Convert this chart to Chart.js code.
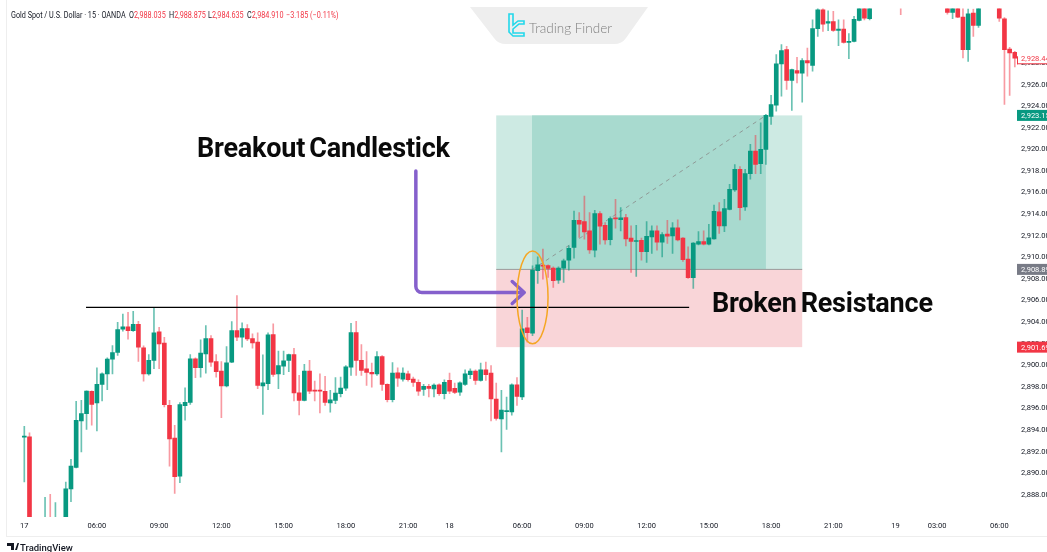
<!DOCTYPE html>
<html>
<head>
<meta charset="utf-8">
<title>Gold Spot / U.S. Dollar</title>
<script src="https://cdn.jsdelivr.net/npm/chart.js@4"></script>
<style>
  html, body { margin: 0; padding: 0; background: #fff; overflow: hidden; }
  #marco { position: relative; width: 1047px; height: 552px; overflow: hidden; }
  canvas { position: absolute; left: 0; top: 0; }
  .txt { position: absolute; white-space: nowrap; line-height: 1; }
  .cab { top: 10px; font: 8.5px Roboto, sans-serif; color: #131722; transform: scaleX(.85); transform-origin: left top; }
  .rojo { color: #f23645; }
  .nota { font: 700 27px Roboto, sans-serif; letter-spacing: -.2px; word-spacing: -2.5px; color: #0a0a0a; }
</style>
</head>
<body>
<div id="marco">
  <canvas id="plot1" width="1047" height="552"></canvas>

  <svg style="position:absolute;left:0;top:0" width="1047" height="552">
    <path d="M470 7 L648 7 L626 38 Q622 44 614 44 L506 44 Q498 44 494 38 Z" fill="#eeeeee"/>
    <path d="M509 14 H513 V25 L518 21 H524 V24 H519 L513 29 V33 H524 V36 H513 L509 32 Z" fill="none" stroke="#22d8ea" stroke-width="1.6"/>
    <path d="M7 543 H14 V550 H11 V546 H7 Z M15 550 L17.5 543 H19 L17 550 Z" fill="#131722"/>
  </svg>

  <div class="txt cab" style="left:11px">Gold Spot / U.S. Dollar · 15 · OANDA</div>
  <div class="txt cab" style="left:129px">O<span class="rojo">2,988.035</span></div>
  <div class="txt cab" style="left:169px">H<span class="rojo">2,988.875</span></div>
  <div class="txt cab" style="left:208px">L<span class="rojo">2,984.635</span></div>
  <div class="txt cab" style="left:247px">C<span class="rojo">2,984.910</span></div>
  <div class="txt cab rojo" style="left:286px">−3.185 (−0.11%)</div>

  <div class="txt" style="left:529px;top:20px;font:300 13.5px Lato,sans-serif;color:#808080">Trading Finder</div>
  <div class="txt" style="left:20px;top:542px;font:500 9.5px Roboto,sans-serif;color:#131722">TradingView</div>

  <div class="txt nota" style="left:197px;top:132px">Breakout Candlestick</div>
  <div class="txt nota" style="left:712px;top:287px">Broken Resistance</div>
</div>

<script>
// Precios de cada vela (las que salen de la vista son estimadas)
let aperturas = [
  2893.35, 2893.38, 2884, 2884.5, 2884.6, 2885.5, 2885, 2885.6, 2885.2, 2888.55,
  2890.55, 2894.86, 2895.53, 2897.6, 2896.52, 2898.24, 2899.22, 2900.58, 2901.19, 2903.35,
  2903.56, 2903.22, 2903.81, 2901.62, 2899.22, 2900.46, 2903.1, 2902.06, 2896.3, 2893.26,
  2889.75, 2896.27, 2896.58, 2900.61, 2899.78, 2901.07, 2902.49, 2900.36, 2899.47, 2898.09,
  2900.3, 2903.22, 2902.61, 2903.41, 2902.49, 2902.15, 2898.09, 2898.3, 2902.86, 2899.22,
  2899.93, 2900.46, 2901.01, 2897.47, 2896.76, 2899.47, 2897.7, 2897.7, 2897.59, 2896.52,
  2896.76, 2897.38, 2897.9, 2899.84, 2903.04, 2900.46, 2899.69, 2899.35, 2899.22, 2900.82,
  2898.24, 2896.82, 2899.32, 2898.73, 2899.22, 2898.73, 2898.42, 2897.78, 2898.06, 2897.81,
  2898.21, 2897.38, 2898.61, 2897.87, 2897.53, 2898.24, 2899.13, 2899.47, 2898.61, 2899.59,
  2899.29, 2896.89, 2895.04, 2895.72, 2895.69, 2898.21, 2897.07, 2903.47, 2902.98, 2908.76,
  2909.28, 2909.25, 2909.01, 2907.9, 2909.01, 2909.75, 2910.92, 2913.44, 2913.32, 2912.45,
  2910.67, 2914.05, 2912.98, 2911.65, 2913.63, 2913.5, 2913.69, 2911.78, 2911.47, 2911.59,
  2910.52, 2911.9, 2912.45, 2911.41, 2912.15, 2911.99, 2912.73, 2911.78, 2909.84, 2908.12,
  2911.22, 2911.47, 2911.22, 2911.72, 2914.21, 2912.92, 2914.45, 2916.24, 2918.16, 2914.67,
  2917.76, 2919.85, 2918.68, 2920.01, 2923.05, 2924.1, 2927.92, 2929.24, 2926.38, 2927.3,
  2927.05, 2928.22, 2927.79, 2931.18, 2932.93, 2931.7, 2931.85, 2931.02, 2931.15, 2929.92,
  2930.01, 2931.95, 2934.5, 2932.1, 2934.5, 2935.2, 2934.8, 2935.8, 2936.1, 2935.6,
  2935.1, 2935.7, 2935.3, 2935.9, 2935.4, 2934.7, 2935.2, 2934.6, 2934.2, 2932.68,
  2934, 2932.25, 2929.24, 2932.62, 2931.48, 2934, 2934.6, 2934.3, 2934.2, 2932.1,
  2929.3, 2928.99
]
let maximos = [
  2894.36, 2893.75, 2885, 2885.2, 2887.78, 2888.06, 2887.29, 2885.8, 2889.19, 2891.29,
  2896.67, 2896.76, 2897.65, 2897.65, 2899.78, 2899.3, 2900.7, 2901.84, 2903.99, 2904.76,
  2904.92, 2905.01, 2904.09, 2901.81, 2901.01, 2905.32, 2903.53, 2902.61, 2896.76, 2894.46,
  2896.55, 2897.93, 2901.01, 2900.7, 2902.36, 2903.69, 2902.76, 2901.01, 2900.36, 2901.75,
  2904.06, 2906.46, 2903.93, 2903.78, 2902.92, 2903.01, 2900.98, 2903.01, 2903.84, 2901.32,
  2901.32, 2901.05, 2901.59, 2899.07, 2900.09, 2900.46, 2898.55, 2899.22, 2898.98, 2897.69,
  2898.86, 2898.92, 2899.99, 2903.9, 2904.09, 2901.93, 2901.29, 2900.21, 2901.29, 2900.9,
  2898.3, 2900.27, 2899.78, 2899.78, 2899.47, 2898.92, 2898.67, 2898.24, 2898.24, 2898.3,
  2898.3, 2898.67, 2899.29, 2898.36, 2898.48, 2899.59, 2899.69, 2899.59, 2900.21, 2900.3,
  2899.99, 2898.36, 2897.69, 2897.07, 2898.3, 2898.86, 2905.13, 2904.46, 2909.22, 2910.05,
  2910.76, 2909.32, 2909.13, 2909.13, 2909.84, 2911.07, 2914.3, 2914.15, 2915.69, 2914.15,
  2914.36, 2914.24, 2913.22, 2913.75, 2915.38, 2914.61, 2914, 2912.92, 2912.98, 2911.78,
  2913.32, 2912.92, 2912.92, 2912.3, 2913.44, 2913.22, 2913.47, 2911.84, 2910.98, 2911.38,
  2912.39, 2912.45, 2913.07, 2914.85, 2915.07, 2915.38, 2916.76, 2918.6, 2918.4, 2918.16,
  2920.47, 2921.3, 2922.47, 2923.24, 2925.02, 2928.78, 2929.7, 2929.55, 2927.45, 2928.53,
  2928.41, 2929.39, 2932.01, 2933.4, 2933.3, 2932.84, 2932.78, 2932.01, 2932.01, 2930.72,
  2932.32, 2935, 2935, 2935.3, 2935.6, 2936, 2936.2, 2936.6, 2936.7, 2936.3,
  2936, 2936.4, 2936.2, 2936.5, 2935.8, 2935.5, 2935.7, 2935.1, 2934.8, 2934.5,
  2934.3, 2933.3, 2933.02, 2933, 2934.5, 2935, 2935.2, 2934.9, 2934.6, 2932.22,
  2929.45, 2929.08
]
let minimos = [
  2889.22, 2884.8, 2883, 2883.8, 2884.2, 2884.5, 2884.5, 2884.8, 2885, 2887.38,
  2890.5, 2891.99, 2894.06, 2894.46, 2893.93, 2896.7, 2897.75, 2899.22, 2900.92, 2903.16,
  2902.42, 2903.15, 2900.36, 2898.55, 2899.1, 2899.69, 2899.69, 2896.15, 2890.67, 2888.15,
  2889.13, 2894.92, 2896.39, 2898.86, 2898.92, 2899.29, 2899.9, 2898.92, 2895.16, 2898,
  2900.25, 2902.3, 2901.69, 2902.3, 2901.59, 2897.84, 2895.47, 2897.75, 2898.98, 2897.84,
  2899.13, 2899.41, 2896.7, 2895.41, 2896.7, 2897.38, 2896.7, 2895.59, 2896.3, 2895.66,
  2896.46, 2897.07, 2897.69, 2899.07, 2899.07, 2899.07, 2898.15, 2897.99, 2899.07, 2897.69,
  2896.61, 2896.61, 2898.06, 2898.55, 2898.55, 2898.06, 2897.22, 2897.22, 2897.07, 2897.07,
  2897.22, 2896.89, 2897.38, 2897.38, 2897.22, 2898.15, 2898.76, 2898.24, 2898.55, 2898.61,
  2894.86, 2894.92, 2891.99, 2894.06, 2895.38, 2896.3, 2896.82, 2902.15, 2902.76, 2907.59,
  2907.99, 2908.15, 2907.22, 2907.59, 2907.69, 2908.82, 2909.93, 2911.84, 2911.69, 2910.36,
  2910.05, 2911.22, 2911.22, 2911.16, 2912.7, 2912.45, 2911.07, 2908.61, 2908.24, 2909.75,
  2909.53, 2910.36, 2910.67, 2910.05, 2911.29, 2910.36, 2911.53, 2909.62, 2908.05, 2907.13,
  2911.16, 2911.16, 2911.16, 2911.7, 2912.21, 2912.39, 2914.4, 2916.1, 2913.47, 2914.36,
  2917.24, 2917.76, 2917.76, 2918.62, 2922.32, 2923.55, 2924.93, 2925.55, 2923.61, 2926.16,
  2924.38, 2926.78, 2927.24, 2930.47, 2930.93, 2930.99, 2930.93, 2929.61, 2929.85, 2928.41,
  2929.95, 2931.9, 2932, 2932, 2934.1, 2934.4, 2934.3, 2935.1, 2935.2, 2932.47,
  2934.6, 2935, 2934.8, 2935.1, 2934.3, 2934.1, 2934.2, 2933.9, 2932.53, 2932.1,
  2932.2, 2928.47, 2928.16, 2930.47, 2931.3, 2933.6, 2933.9, 2933.7, 2931.85, 2924.16,
  2924.99, 2927.64
]
let cierres = [
  2893.42, 2885, 2884.5, 2884.6, 2885.5, 2885, 2885.6, 2885.2, 2888.58, 2890.67,
  2894.92, 2895.53, 2897.62, 2896.39, 2898.24, 2899.22, 2900.58, 2901.19, 2903.32, 2903.56,
  2903.22, 2903.81, 2901.69, 2899.22, 2900.46, 2903.01, 2901.99, 2896.36, 2893.19, 2889.69,
  2896.36, 2896.58, 2900.61, 2899.78, 2901.13, 2902.49, 2900.3, 2899.41, 2898.09, 2900.24,
  2903.22, 2902.61, 2903.41, 2902.46, 2902.09, 2898.15, 2898.39, 2902.82, 2899.16, 2899.99,
  2900.42, 2901.01, 2897.44, 2896.76, 2899.47, 2897.62, 2897.62, 2897.62, 2896.58, 2896.82,
  2897.44, 2897.9, 2899.87, 2903.04, 2900.46, 2899.53, 2899.35, 2899.22, 2900.82, 2898.24,
  2896.82, 2899.29, 2898.82, 2899.29, 2898.67, 2898.42, 2897.62, 2898.06, 2897.87, 2898.18,
  2897.38, 2898.42, 2897.62, 2897.5, 2898.39, 2899.22, 2899.47, 2898.61, 2899.59, 2899.13,
  2896.89, 2895.1, 2895.87, 2895.78, 2898.21, 2897.13, 2903.38, 2903.04, 2908.82, 2909.32,
  2909.19, 2908.98, 2907.84, 2909.01, 2909.69, 2910.85, 2913.44, 2913.07, 2912.36, 2910.7,
  2914.05, 2912.89, 2911.62, 2913.59, 2913.57, 2913.66, 2911.72, 2911.47, 2911.53, 2910.52,
  2911.96, 2912.45, 2911.41, 2912.12, 2911.96, 2912.73, 2911.62, 2909.78, 2908.12, 2911.32,
  2911.47, 2911.22, 2911.81, 2914.27, 2912.92, 2914.52, 2916.3, 2918.16, 2914.61, 2917.76,
  2919.85, 2918.62, 2920.01, 2923.15, 2924.16, 2927.92, 2929.15, 2926.38, 2927.39, 2927.05,
  2928.22, 2928.01, 2931.18, 2932.93, 2931.61, 2931.85, 2931.02, 2931.15, 2929.92, 2930.01,
  2932.04, 2934.5, 2932.16, 2934.5, 2935.2, 2934.8, 2935.8, 2936.1, 2935.6, 2935.1,
  2935.7, 2935.3, 2935.9, 2935.4, 2934.7, 2935.2, 2934.6, 2934.2, 2932.68, 2934,
  2932.25, 2929.24, 2932.56, 2931.48, 2934, 2934.6, 2934.3, 2934.2, 2932.16, 2929.24,
  2928.93, 2928.44
]

// Etiquetas de los ejes
let posicionesTiempo = [0, 14, 26, 38, 50, 62, 74, 82, 96, 108, 120, 132, 144, 156, 168, 176, 188]
let etiquetasTiempo = ['17', '06:00', '09:00', '12:00', '15:00', '18:00', '21:00', '18', '06:00', '09:00', '12:00', '15:00', '18:00', '21:00', '19', '03:00', '06:00']
let ticksPrecio = [2888, 2890, 2892, 2894, 2896, 2898, 2900, 2902, 2904, 2906, 2908, 2910, 2912, 2914, 2916, 2918, 2920, 2922, 2924, 2926, 2928]

// Niveles de la posicion larga y de la resistencia
let precioObjetivo = 2923.15
let precioEntrada = 2908.89
let precioStop = 2901.69
let precioActual = 2928.44
let precioResistencia = 2905.38

let VERDE = '#089981'
let ROJO = '#f23645'
let VERDE_MECHA = 'rgba(8,153,129,.6)'
let ROJO_MECHA = 'rgba(242,54,69,.5)'
let FUENTE_EJE = 'Roboto, sans-serif'

let indices = aperturas.map((_, i) => i)
let alcista = indices.map(i => cierres[i] >= aperturas[i])

let fmtPrecio = (v) => v.toLocaleString('en-US', {minimumFractionDigits: 2, maximumFractionDigits: 2})

// Zonas de ganancia y perdida, debajo de las velas
let dibujarZonas = (chart) => {
  let {ctx, scales: {x, y}} = chart
  let rect = (i1, i2, p1, p2, color) => {
    ctx.fillStyle = color
    ctx.fillRect(x.getPixelForValue(i1), y.getPixelForValue(p1), x.getPixelForValue(i2) - x.getPixelForValue(i1), y.getPixelForValue(p2) - y.getPixelForValue(p1))
  }
  rect(91, 150, precioObjetivo, precioEntrada, '#cdeae3')
  rect(97.9, 143, precioObjetivo, precioEntrada, '#a8dacf')
  rect(91, 150, precioEntrada, precioStop, '#f9d5d8')
  ctx.fillStyle = '#9a9a9a'
  ctx.fillRect(x.getPixelForValue(91), y.getPixelForValue(precioEntrada) - 0.5, x.getPixelForValue(150) - x.getPixelForValue(91), 1)
}

// Flecha morada y elipse naranja
let dibujarFlecha = (chart) => {
  let {ctx, scales: {x, y}} = chart
  let xa = x.getPixelForValue(75.5), ya = y.getPixelForValue(2918), yb = y.getPixelForValue(2906.75), xp = x.getPixelForValue(96.4)
  ctx.save()
  ctx.strokeStyle = '#8560cc'
  ctx.lineWidth = 3.5
  ctx.lineCap = 'round'
  ctx.lineJoin = 'round'
  ctx.beginPath()
  ctx.moveTo(xa, ya)
  ctx.arcTo(xa, yb, xp, yb, 6)
  ctx.lineTo(xp, yb)
  ctx.moveTo(xp - 12, yb - 11)
  ctx.lineTo(xp, yb)
  ctx.lineTo(xp - 12, yb + 11)
  ctx.stroke()
  ctx.strokeStyle = '#f5a623'
  ctx.lineWidth = 1.5
  let yArr = y.getPixelForValue(2910.6), yAba = y.getPixelForValue(2902)
  ctx.beginPath()
  ctx.ellipse(x.getPixelForValue(98), (yArr + yAba) / 2, 15.5, (yAba - yArr) / 2, 0, 0, Math.PI * 2)
  ctx.stroke()
  ctx.restore()
}

// Cajas de precio sobre la escala derecha y bordes del panel
let dibujarEtiquetas = (chart) => {
  let {ctx, chartArea, scales: {y}} = chart
  let caja = (precio, fondo, colorTxt) => {
    let py = y.getPixelForValue(precio)
    ctx.fillStyle = fondo
    ctx.fillRect(chartArea.right, py - 5.5, 30, 11)
    ctx.fillStyle = colorTxt
    ctx.font = '7.5px ' + FUENTE_EJE
    ctx.textBaseline = 'middle'
    ctx.textAlign = 'left'
    ctx.fillText(fmtPrecio(precio), chartArea.right + 4, py + 0.5)
  }
  ctx.save()
  ctx.fillStyle = '#eeeeee'
  ctx.fillRect(chartArea.left, 0, 1, 536)
  ctx.fillRect(chartArea.left, 536, 1041, 1)
  caja(precioObjetivo, VERDE, '#fff')
  caja(precioEntrada, '#787b86', '#fff')
  caja(precioStop, ROJO, '#fff')
  caja(precioActual, '#fff', ROJO)
  let pa = y.getPixelForValue(precioActual)
  ctx.fillStyle = ROJO
  ctx.fillRect(chartArea.right, pa + 5, 30, 1)
  ctx.fillRect(chartArea.right, pa - 2, 1, 8)
  ctx.restore()
}

let anotaciones = {
  id: 'anotaciones',
  beforeDatasetsDraw: dibujarZonas,
  afterDatasetsDraw: dibujarFlecha,
  afterDraw: dibujarEtiquetas
}

let plotRef = document.getElementById('plot1')

let config = {
  type: 'bar',
  data: {
    datasets: [
      {
        type: 'line',
        label: 'Resistencia',
        data: [{x: 11.9, y: precioResistencia}, {x: 128.2, y: precioResistencia}],
        borderColor: '#000',
        borderWidth: 1.3,
        pointRadius: 0,
        order: 0
      },
      {
        label: 'Cuerpos',
        data: indices.map(i => ({x: i, y: [aperturas[i], cierres[i]]})),
        backgroundColor: indices.map(i => alcista[i] ? VERDE : ROJO),
        barThickness: 4,
        minBarLength: 1,
        grouped: false,
        order: 1
      },
      {
        label: 'Mechas',
        data: indices.map(i => ({x: i, y: [minimos[i], maximos[i]]})),
        backgroundColor: indices.map(i => alcista[i] ? VERDE_MECHA : ROJO_MECHA),
        barThickness: 1,
        grouped: false,
        order: 2
      },
      {
        type: 'line',
        label: 'Trayectoria',
        data: [{x: 98, y: precioEntrada}, {x: 143, y: precioObjetivo}],
        borderColor: '#8f9a97',
        borderWidth: 1,
        borderDash: [4, 4],
        pointRadius: 0,
        order: 3
      }
    ]
  },
  options: {
    responsive: false,
    animation: false,
    layout: {padding: {left: 6, top: 7, right: 0, bottom: 0}},
    plugins: {
      legend: {display: false},
      tooltip: {enabled: false}
    },
    scales: {
      x: {
        type: 'linear',
        offset: false,
        min: -3.53,
        max: 191.42,
        grid: {display: false, drawTicks: false},
        border: {display: false},
        afterFit: (scale) => { scale.height = 35 },
        afterBuildTicks: (scale) => { scale.ticks = posicionesTiempo.map(v => ({value: v})) },
        ticks: {
          autoSkip: false,
          maxRotation: 0,
          padding: 5,
          color: '#131722',
          font: {family: FUENTE_EJE, size: 7.5},
          callback: (v) => etiquetasTiempo[posicionesTiempo.indexOf(v)]
        }
      },
      y: {
        position: 'right',
        min: 2885.96,
        max: 2933.05,
        grid: {display: false, drawTicks: false},
        border: {display: false},
        afterFit: (scale) => { scale.width = 30 },
        afterBuildTicks: (scale) => { scale.ticks = ticksPrecio.map(v => ({value: v})) },
        ticks: {
          padding: 4,
          color: '#131722',
          font: {family: FUENTE_EJE, size: 7.5},
          callback: (v) => fmtPrecio(v)
        }
      }
    }
  },
  plugins: [anotaciones]
}

new Chart(plotRef, config)
</script>
</body>
</html>
